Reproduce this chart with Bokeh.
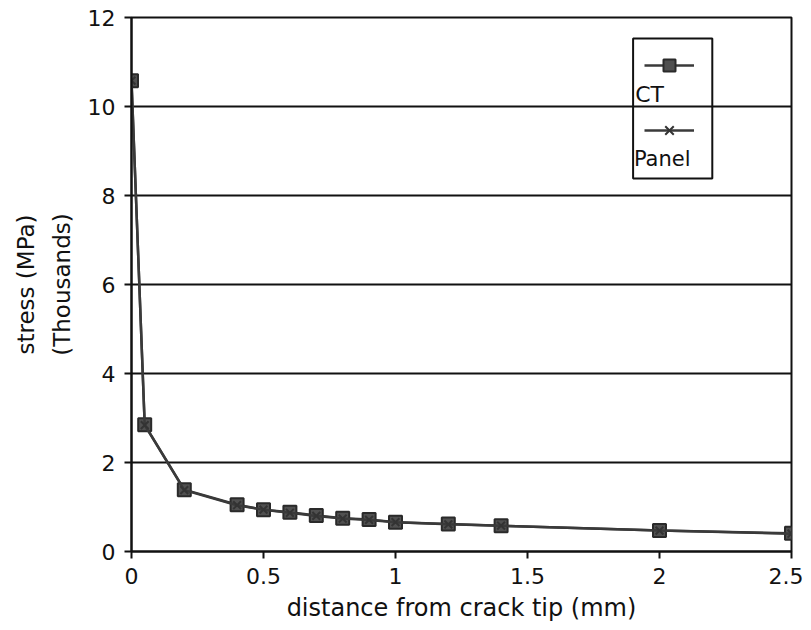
from bokeh.plotting import figure
from bokeh.models import (Legend, LegendItem, BoxAnnotation, Label, FixedTicker,
                          Range1d)
from bokeh.embed import file_html
from bokeh.resources import INLINE

# distance from crack tip (mm)
distance = [0.0, 0.05, 0.2, 0.4, 0.5, 0.6, 0.7, 0.8, 0.9, 1.0, 1.2, 1.4, 2.0, 2.5]
# stress (MPa, thousands)
ct_stress = [10.58, 2.85, 1.39, 1.05, 0.94, 0.88, 0.81, 0.75, 0.72, 0.66, 0.62, 0.58, 0.47, 0.41]
panel_stress = [10.58, 2.84, 1.38, 1.04, 0.94, 0.87, 0.80, 0.74, 0.71, 0.66, 0.61, 0.58, 0.47, 0.40]

x_ticks = [0, 0.5, 1, 1.5, 2, 2.5]
x_tick_labels = {0: "0", 0.5: "0.5", 1: "1", 1.5: "1.5", 2: "2", 2.5: "2.5"}
y_ticks = [0, 2, 4, 6, 8, 10, 12]

FONT = "DejaVu Sans"
INK = "#111111"
SERIES = "#3a3a3a"

p = figure(width=803, height=629, output_backend="svg", toolbar_location=None,
           x_range=Range1d(0, 2.5), y_range=Range1d(0, 12),
           min_border_left=131, min_border_right=12, min_border_top=17,
           min_border_bottom=78)
p.background_fill_color = "white"
p.border_fill_color = "white"
p.outline_line_color = INK
p.outline_line_width = 2

p.xgrid.grid_line_color = None
p.ygrid.grid_line_color = INK
p.ygrid.grid_line_width = 2
p.ygrid.ticker = FixedTicker(ticks=y_ticks)

for ax in (p.xaxis[0], p.yaxis[0]):
    ax.axis_line_color = INK
    ax.axis_line_width = 2
    ax.major_tick_line_color = INK
    ax.major_tick_line_width = 2
    ax.major_tick_out = 7
    ax.major_tick_in = 0
    ax.minor_tick_line_color = None
    ax.major_label_text_font = FONT
    ax.major_label_text_font_size = "22px"
    ax.major_label_text_color = INK
    ax.axis_label_text_font = FONT
    ax.axis_label_text_font_size = "24px"
    ax.axis_label_text_font_style = "normal"
    ax.axis_label_text_color = INK

p.xaxis.ticker = FixedTicker(ticks=x_ticks)
p.xaxis.major_label_overrides = x_tick_labels
p.xaxis.axis_label = "distance from crack tip (mm)"
p.xaxis.major_label_standoff = 9
p.xaxis.axis_label_standoff = 7

p.yaxis.ticker = FixedTicker(ticks=y_ticks)
p.yaxis.axis_label = "stress (MPa)\n(Thousands)"
p.yaxis.axis_label_text_font_size = "23px"
p.yaxis.axis_label_text_line_height = 1.35
p.yaxis.major_label_standoff = 9
p.yaxis.axis_label_standoff = 10

ct_line = p.line(distance, ct_stress, line_color=SERIES, line_width=2.5)
ct_mark = p.scatter(distance, ct_stress, marker="square", size=13,
                    fill_color="#505050", line_color="#2a2a2a", line_width=2)
pn_line = p.line(distance, panel_stress, line_color=SERIES, line_width=2.5)
pn_mark = p.scatter(distance, panel_stress, marker="x", size=11,
                    line_color="#333333", line_width=2)

legend = Legend(items=[LegendItem(label=" ", renderers=[ct_line, ct_mark]),
                       LegendItem(label=" ", renderers=[pn_line, pn_mark])],
                location=(513, 406), orientation="vertical",
                glyph_width=50, glyph_height=30, spacing=35, padding=8,
                label_standoff=0, label_width=0,
                border_line_color=None, background_fill_alpha=0)
p.add_layout(legend, "center")

p.add_layout(BoxAnnotation(left=1.90, right=2.20, top=11.53, bottom=8.38,
                           fill_alpha=0, line_color=INK, line_alpha=1,
                           line_width=2))
p.add_layout(Label(x=1.908, y=9.99, text="CT", text_font=FONT,
                   text_font_size="22px", text_color=INK))
p.add_layout(Label(x=1.903, y=8.55, text="Panel", text_font=FONT,
                   text_font_size="21px", text_color=INK))

open("out.html", "w").write(file_html(p, INLINE))
